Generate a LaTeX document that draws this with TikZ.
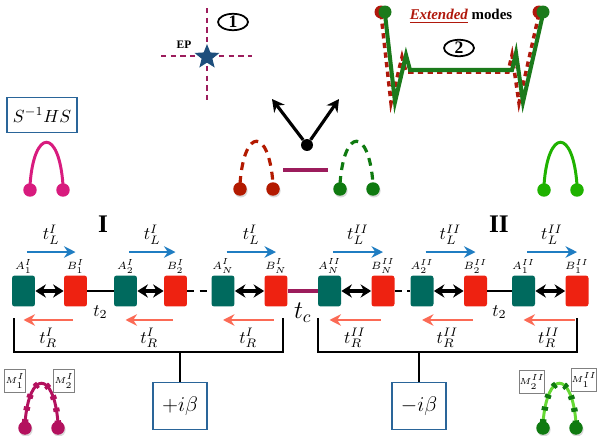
\documentclass[tikz,border=0pt]{standalone}
\usepackage{fontspec}
\setmainfont{Liberation Serif}
\usetikzlibrary{arrows.meta,shapes.geometric,shadows,positioning}
\definecolor{siteA}{HTML}{006A5E}
\definecolor{siteB}{HTML}{EE2211}
\definecolor{tlblue}{HTML}{1F7DC2}
\definecolor{trsalmon}{HTML}{FB6A55}
\definecolor{maroon}{HTML}{9C1C5C}
\definecolor{starblue}{HTML}{1D4E7C}
\definecolor{boxblue}{HTML}{2A6599}
\definecolor{pinkarc}{HTML}{D81B7E}
\definecolor{arcred}{HTML}{B31A00}
\definecolor{arcgreen}{HTML}{0F7A10}
\definecolor{lightgreen}{HTML}{1FB200}
\definecolor{mpink}{HTML}{B3115E}
\definecolor{mgreen}{HTML}{66D934}
\definecolor{extgreen}{HTML}{1B7A1B}
\definecolor{extred}{HTML}{B0180C}
\newcommand{\hump}[5]{%
  \draw[#4] (#1,#2-5) .. controls (#1+4,#2-#3) and (#1+29,#2-#3) .. (#1+33,#2-5);
  \fill[#5] (#1,#2) circle (0.135cm) (#1+33,#2) circle (0.135cm);}
\begin{document}
\begin{tikzpicture}[x=0.02cm, y=-0.02cm,
    site/.style={rounded corners=1.5pt, minimum width=0.46cm, minimum height=0.62cm, inner sep=0pt},
    sitelbl/.style={font=\fontsize{6}{7}\selectfont, inner sep=0.6pt},
    hop/.style={{Stealth[length=6pt,width=7.5pt]}-{Stealth[length=6pt,width=7.5pt]}, line width=1.8pt},
    tlarrow/.style={-{Stealth[length=6.5pt,width=6.5pt]}, line width=1.4pt, tlblue},
    trarrow/.style={-{Stealth[length=6.5pt,width=6.5pt]}, line width=1.4pt, trsalmon},
    hoplbl/.style={black, inner sep=1pt},
    brk/.style={line width=1.3pt},
    betabox/.style={draw=boxblue, line width=0.9pt, fill=white, minimum width=1.08cm, minimum height=0.94cm, font=\fontsize{13}{15}\selectfont},
    mbox/.style={draw=gray, fill=white, line width=0.5pt, minimum width=0.42cm, minimum height=0.46cm, inner sep=0pt, font=\fontsize{5}{6}\selectfont},
    tag/.style={ellipse, draw, line width=1pt, minimum width=0.6cm, minimum height=0.32cm, inner sep=0pt, font=\bfseries},
    epline/.style={maroon, line width=1.4pt, dash pattern=on 3pt off 2.5pt},
    bigarrow/.style={-{Stealth[length=7pt,width=7.5pt]}, line width=1.8pt},
    ballshadow/.style={drop shadow={shadow xshift=0.5pt, shadow yshift=-1pt, opacity=0.3}}]
\useasboundingbox (0,0) rectangle (599,436);

% exceptional point
\draw[epline] (207,8) -- (207,100);
\draw[epline] (161,56) -- (252,56);
\node[star, star points=5, star point ratio=2.3, fill=starblue, inner sep=0pt, minimum size=0.52cm] (ep) at (207,57) {};
\node[font=\fontsize{6.5}{7}\selectfont\bfseries] (eplbl) at (184,45) {EP};
\node[tag] (tag1) at (233,22) {1};

% extended modes
\fill[extred] (381,12) circle (0.13cm) (539,12) circle (0.13cm);
\draw[extred, line width=2pt, dash pattern=on 3pt off 2.5pt] (381,14) -- (391,103) -- (402,57) -- (406,72) -- (508,72) -- (512,55) -- (519,103) -- (539,14);
\fill[extgreen] (385,12) circle (0.13cm) (543,12) circle (0.13cm);
\draw[extgreen, line width=2.3pt] (385,14) -- (395,102) -- (406,55) -- (410,70) -- (512,70) -- (516,53) -- (523,102) -- (543,14);
\node[font=\fontsize{8.5}{10}\selectfont\bfseries] (ext) at (461,16) {\textcolor{extred}{\underline{\itshape Extended}} modes};
\node[tag] (tag2) at (459,48) {2};

% middle
\node[circle, fill, inner sep=0pt, minimum size=0.24cm] (hub) at (307,145) {};
\coordinate (up1) at (272,99);
\coordinate (up2) at (339,99);
\draw[bigarrow] (hub) -- (up1);
\draw[bigarrow] (hub) -- (up2);
\hump{240}{189}{62}{arcred, line width=1.8pt, dash pattern=on 4.5pt off 3.5pt}{arcred, ballshadow}
\hump{340}{189}{62}{arcgreen, line width=1.8pt, dash pattern=on 4.5pt off 3.5pt}{arcgreen, ballshadow}
\draw[maroon, line width=1.8pt] (283,170) -- (328,170);

\node[draw=boxblue, line width=1pt, minimum width=1.3cm, minimum height=0.7cm] (shs) at (42,115) {$S^{-1}HS$};
\hump{30}{190}{62}{pinkarc, line width=1.7pt}{pinkarc}
\hump{544}{190}{62}{lightgreen, line width=1.7pt}{lightgreen}

% chains
\node[font=\Large\bfseries] (reg1) at (103,224) {I};
\node[font=\Large\bfseries] (reg2) at (499,224) {II};
\foreach \n/\x/\c/\lab in {a1/23.5/siteA/A_1^I, b1/75.5/siteB/B_1^I, a2/125.5/siteA/A_2^I, b2/175.5/siteB/B_2^I,
    aN/223/siteA/A_N^I, bN/276/siteB/B_N^I, cN/329.5/siteA/A_N^{II}, dN/383/siteB/B_N^{II},
    c2/422/siteA/A_2^{II}, d2/475.5/siteB/B_2^{II}, c1/523.5/siteA/A_1^{II}, d1/577/siteB/B_1^{II}}
  \node[site, fill=\c, label={[sitelbl]above:$\lab$}] (\n) at (\x,291) {};
\foreach \a/\b/\s in {a1/b1/I, a2/b2/I, aN/bN/I, cN/dN/II, c2/d2/II, c1/d1/II} {
  \draw[hop] (\a) -- (\b);
  \draw[tlarrow] ([xshift=0.07cm, yshift=0.78cm]\a.center) -- node[hoplbl, above=2.5pt]{$t_L^{\s}$} ([yshift=0.78cm]\b.center);
  \draw[trarrow] ([xshift=-0.05cm, yshift=-0.58cm]\b.center) -- node[hoplbl, below=3pt]{$t_R^{\s}$} ([yshift=-0.58cm]\a.center);
}
\draw[line width=1.2pt] (b1) -- node[below=0.15cm]{$t_2$} (a2);
\draw[line width=1.2pt, dash pattern=on 4pt off 3pt] (b2) -- (aN);
\draw[maroon, line width=1.8pt] (bN) -- node[below=0.1cm, font=\Large, black]{$t_c$} (cN);
\draw[line width=1.2pt, dash pattern=on 4pt off 3pt] (dN) -- (c2);
\draw[line width=1.2pt] (d2) -- node[below=0.15cm]{$t_2$} (c1);

% gain and loss
\coordinate (lb1) at (14,318);
\coordinate (lb2) at (283,318);
\coordinate (lstem) at (180,352);
\coordinate (rb1) at (318,318);
\coordinate (rb2) at (577,318);
\coordinate (rstem) at (419,352);
\draw[brk] (lb1) |- (lstem) -| (lb2);
\draw[brk] (rb1) |- (rstem) -| (rb2);
\node[betabox] (pbeta) at (180,406) {$+i\beta$};
\node[betabox] (mbeta) at (419,406) {$-i\beta$};
\draw[brk] (lstem) -- (pbeta);
\draw[brk] (rstem) -- (mbeta);

% bottom modes
\hump{25}{428}{58}{mpink, line width=1.7pt, postaction={draw, line width=3.6pt, dash pattern=on 2.2pt off 5pt}}{mpink, ballshadow}
\hump{543}{428}{58}{mgreen, line width=1.7pt, postaction={draw=arcgreen, line width=3.6pt, dash pattern=on 2.2pt off 5pt}}{arcgreen, ballshadow}
\node[mbox] (m1I) at (15,381) {$M_1^I$};
\node[mbox] (m2I) at (64,381) {$M_2^I$};
\node[mbox] (m2II) at (532,382) {$M_2^{II}$};
\node[mbox] (m1II) at (584,380) {$M_1^{II}$};
\end{tikzpicture}
\end{document}
